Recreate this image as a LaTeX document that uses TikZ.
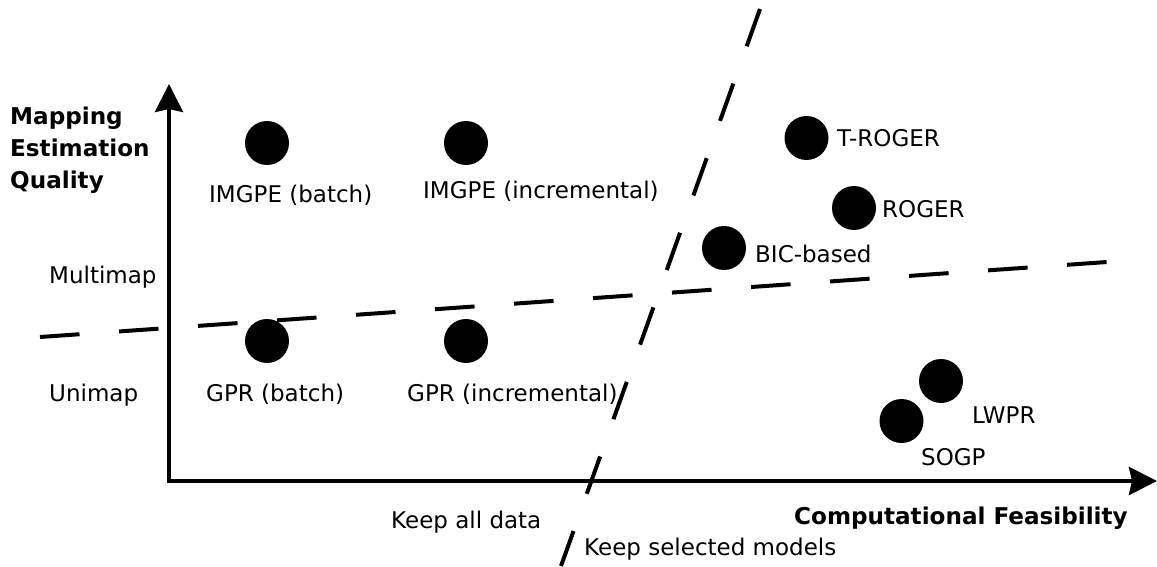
\documentclass[tikz,border=0pt]{standalone}
\usepackage{fontspec}
\setmainfont{DejaVu Sans}
\usetikzlibrary{arrows.meta}

\begin{document}
\begin{tikzpicture}[x=1pt, y=-1pt,
  axisline/.style={line width=4pt, line join=miter,
    {Stealth[length=28pt, width=28pt, inset=3pt]}-{Stealth[length=28pt, width=28pt, inset=3pt]}},
  boundary/.style={line width=4pt, dash pattern=on 39.6pt off 39.6pt},
  method/.style={circle, fill=black, draw=none, minimum size=44pt, inner sep=0pt},
  lbl/.style={anchor=base west, inner sep=0pt, font=\fontsize{23}{27}\selectfont},
  axislbl/.style={lbl, font=\fontsize{23.1}{27}\selectfont\bfseries},
]
\useasboundingbox (0,0) rectangle (1157,567);

% axes
\coordinate (ytop) at (169,84);
\coordinate (origin) at (169,481);
\coordinate (xend) at (1157,481);
\draw[axisline] (ytop) -- (origin) -- (xend);

% separating boundaries
\coordinate (hA) at (40,337);
\coordinate (hB) at (1107,262);
\draw[boundary] (hA) -- (hB);
\coordinate (vA) at (760,9);
\coordinate (vB) at (561,566);
\draw[boundary] (vA) -- (vB);

% axis titles
\node[axislbl] (yt1) at (10,125) {Mapping};
\node[axislbl] (yt2) at (10,157) {Estimation};
\node[axislbl] (yt3) at (10,189) {Quality};
\node[axislbl] (xt) at (794,524) {Computational Feasibility};

% region labels
\node[lbl] (multi) at (49,283) {Multimap};
\node[lbl] (uni) at (49,401) {Unimap};
\node[lbl] (keepall) at (391,528) {Keep all data};
\node[lbl] (keepsel) at (584,555) {Keep selected models};

% methods
\node[method] (imgpeb) at (267,143) {};
\node[method] (imgpei) at (466,143) {};
\node[method] (troger) at (806.5,138) {};
\node[method] (roger) at (854,208) {};
\node[method] (bic) at (724,248) {};
\node[method] (gprb) at (267,341) {};
\node[method] (gpri) at (466,341) {};
\node[method] (lwpr) at (941,381) {};
\node[method] (sogp) at (901.5,421) {};

\node[lbl] (imgpebL) at (209,203) {IMGPE (batch)};
\node[lbl] (imgpeiL) at (423,198) {IMGPE (incremental)};
\node[lbl] (trogerL) at (837,147) {T-ROGER};
\node[lbl] (rogerL) at (882,217) {ROGER};
\node[lbl] (bicL) at (755,262) {BIC-based};
\node[lbl] (gprbL) at (206,401) {GPR (batch)};
\node[lbl] (gpriL) at (407,401) {GPR (incremental)};
\node[lbl] (lwprL) at (972,423) {LWPR};
\node[lbl] (sogpL) at (921,465) {SOGP};
\end{tikzpicture}
\end{document}
